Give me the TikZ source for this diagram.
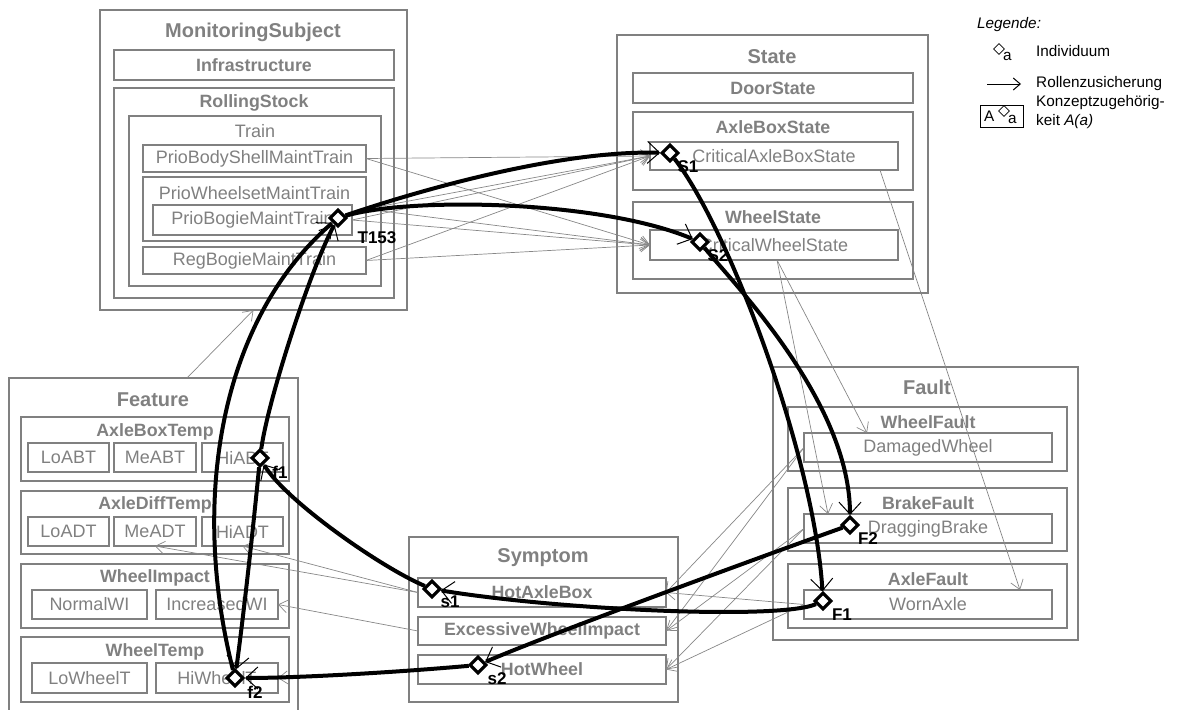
\documentclass[tikz,border=0pt]{standalone}
\usepackage{fontspec}
\setmainfont{Liberation Sans}
\usetikzlibrary{arrows.meta,shapes.geometric}
\definecolor{gr}{RGB}{128,128,128}
\definecolor{ln}{RGB}{135,135,135}
\pgfdeclarelayer{back}
\pgfdeclarelayer{mid}
\pgfsetlayers{back,mid,main}
\tikzset{
 gbox/.style={draw=gr, line width=2pt, inner sep=0pt, outer sep=0pt, rectangle, text=gr},
 ttl/.style={text=gr, font=\fontsize{20}{22}\selectfont\bfseries, inner sep=0pt},
 sttl/.style={text=gr, font=\fontsize{17.8}{20}\selectfont\bfseries, inner sep=0pt},
 nrm/.style={font=\fontsize{18}{20}\selectfont},
 bld/.style={font=\fontsize{17.8}{20}\selectfont\bfseries},
 rel/.style={draw=ln, line width=0.7pt, -{Straight Barb[length=9pt,width=13pt,line width=0.7pt]}},
 role/.style={draw=black, line width=4pt, -{Straight Barb[length=12pt,width=22pt,line width=1pt]}},
 ind/.style={draw=black, fill=white, line width=3.2pt, diamond, minimum width=17pt, minimum height=17pt, inner sep=0pt},
 lbl/.style={font=\fontsize{17}{18}\selectfont\bfseries, inner sep=0pt},
 leg/.style={font=\fontsize{15.3}{17}\selectfont, inner sep=0pt, anchor=west},
}
\newcommand{\bx}[6]{\node[gbox,#6,minimum width={#4-#2},minimum height={#5-#3}] (#1) at ({(#2+#4)/2},{(#3+#5)/2}) {};}
\newcommand{\tbx}[7]{\node[gbox,#6,minimum width={#4-#2},minimum height={#5-#3}] (#1) at ({(#2+#4)/2},{(#3+#5)/2}) {#7};}
\begin{document}
\begin{tikzpicture}[x=1pt,y=-1pt]
\useasboundingbox (0,0) rectangle (1179,710);
\begin{pgfonlayer}{back}
% MonitoringSubject
\bx{ms}{100}{10}{407}{310}{}
\node[ttl] (tms) at (253,32) {MonitoringSubject};
\tbx{inf}{114}{50}{394}{80}{bld}{Infrastructure}
\bx{rs}{114}{88}{394}{298}{}
\node[sttl] (trs) at (254,103) {RollingStock};
\bx{tr}{129}{116}{381}{286}{}
\node[nrm,text=gr,inner sep=0pt] (ttr) at (255,131) {Train};
\tbx{pbs}{143}{145}{366}{172}{nrm}{PrioBodyShellMaintTrain}
\bx{pws}{143}{177}{366}{241}{}
\node[nrm,text=gr,inner sep=0pt] (tpws) at (254.5,193) {PrioWheelsetMaintTrain};
\tbx{pbog}{153}{205}{352}{235}{nrm}{PrioBogieMaintTrain}
\tbx{rbog}{143}{247}{366}{274}{nrm}{RegBogieMaintTrain}
% State
\bx{st}{617}{35}{928}{293}{}
\node[ttl] (tst) at (772,57) {State};
\tbx{door}{633}{73}{913}{103}{bld}{DoorState}
\bx{abs}{633}{112}{913}{190}{}
\node[sttl] (tabs) at (773,127) {AxleBoxState};
\tbx{cabs}{650}{142}{898}{170}{nrm}{CriticalAxleBoxState}
\bx{wst}{633}{202}{913}{279}{}
\node[sttl] (twst) at (773,217) {WheelState};
\tbx{cws}{650}{230}{898}{260}{nrm}{CriticalWheelState}
% Feature
\bx{feat}{9}{378}{298}{714}{}
\node[ttl] (tfeat) at (153,400) {Feature};
\bx{abt}{21}{417}{289}{481}{}
\node[sttl] (tabt) at (155,432) {AxleBoxTemp};
\tbx{loabt}{28}{443}{109}{472}{nrm}{LoABT}
\tbx{meabt}{114}{443}{196}{472}{nrm}{MeABT}
\tbx{hiabt}{202}{443}{283}{472}{nrm}{HiABT}
\bx{adt}{21}{491}{289}{554}{}
\node[sttl] (tadt) at (155,505) {AxleDiffTemp};
\tbx{loadt}{28}{517}{109}{546}{nrm}{LoADT}
\tbx{meadt}{114}{517}{196}{546}{nrm}{MeADT}
\tbx{hiadt}{202}{517}{283}{546}{nrm}{HiADT}
\bx{wi}{21}{564}{289}{628}{}
\node[sttl] (twi) at (155,578) {WheelImpact};
\tbx{nwi}{32}{590}{147}{619}{nrm}{NormalWI}
\tbx{iwi}{156}{590}{278}{619}{nrm}{IncreasedWI}
\bx{wt}{21}{637}{289}{702}{}
\node[sttl] (twt) at (155,652) {WheelTemp};
\tbx{lwt}{32}{663}{147}{693}{nrm}{LoWheelT}
\tbx{hwt}{156}{663}{278}{693}{nrm}{HiWheelT}
% Symptom
\bx{sym}{409}{537}{678}{702}{}
\node[ttl] (tsym) at (543,558) {Symptom};
\tbx{hab}{418}{578}{666}{607}{bld}{HotAxleBox}
\tbx{ewi}{418}{617}{666}{645}{bld}{ExcessiveWheelImpact}
\tbx{hw}{418}{655}{666}{684}{bld}{HotWheel}
% Fault
\bx{flt}{773}{367}{1078}{640}{}
\node[ttl] (tflt) at (927,387) {Fault};
\bx{wf}{788}{407}{1067}{471}{}
\node[sttl] (twf) at (928,422) {WheelFault};
\tbx{dw}{804}{433}{1052}{462}{nrm}{DamagedWheel}
\bx{bf}{788}{488}{1067}{551}{}
\node[sttl] (tbf) at (928,503) {BrakeFault};
\tbx{db}{804}{514}{1052}{543}{nrm}{DraggingBrake}
\bx{af}{788}{564}{1067}{628}{}
\node[sttl] (taf) at (928,579) {AxleFault};
\tbx{wa}{804}{590}{1052}{619}{nrm}{WornAxle}
% gray relations
\draw[rel] (pbs.east) -- (cabs.west);
\draw[rel] (pbs.east) -- (cws.west);
\draw[rel] (pws.east) -- (cabs.west);
\draw[rel] (pws.east) -- (cws.west);
\draw[rel] (pbog.east) -- (cabs.west);
\draw[rel] (pbog.east) -- (cws.west);
\draw[rel] (rbog.east) -- (cabs.west);
\draw[rel] (rbog.east) -- (cws.west);
\coordinate (fm) at (187,378);
\draw[rel] (fm) -- (ms.south);
\coordinate (ca) at (880,170);
\coordinate (waN) at (1020,590);
\draw[rel] (ca) -- (waN);
\coordinate (cw) at (777,260);
\coordinate (dwN) at (867,433);
\coordinate (dbN) at (828,514);
\draw[rel] (cw) -- (dwN);
\draw[rel] (cw) -- (dbN);
\draw[rel] (dw.west) -- (hab.east);
\draw[rel] (dw.west) -- (ewi.east);
\draw[rel] (db.west) -- (ewi.east);
\draw[rel] (db.west) -- (hw.east);
\draw[rel] (wa.west) -- (hab.east);
\draw[rel] (wa.west) -- (hw.east);
\draw[rel] (hab.west) -- (meadt.south);
\draw[rel] (hab.west) -- (hiadt.south);
\draw[rel] (ewi.west) -- (iwi.east);
\draw[rel] (hw.west) -- (hwt.east);
\end{pgfonlayer}
% individuals
\node[ind] (T153) at (338,218) {};
\node[ind] (S1) at (670,153) {};
\node[ind] (S2) at (700,242) {};
\node[ind] (F2) at (850,525) {};
\node[ind] (F1) at (823,601) {};
\node[ind] (s1) at (432,589) {};
\node[ind] (s2) at (478,665) {};
\node[ind] (f1) at (260,458) {};
\node[ind] (f2) at (235,678) {};
\node[lbl] (lT) at (377,238) {T153};
\node[lbl] (lS1) at (688,167) {S1};
\node[lbl] (lS2) at (718,256) {S2};
\node[lbl] (lF1) at (842,615) {F1};
\node[lbl] (lF2) at (868,539) {F2};
\node[lbl] (ls1) at (450,602) {s1};
\node[lbl] (ls2) at (497,679) {s2};
\node[lbl] (lf1) at (280,472) {f1};
\node[lbl] (lf2) at (255,692) {f2};
\begin{pgfonlayer}{mid}
\draw[role] (T153) .. controls (420,190) and (560,150) .. (S1);
\draw[role] (T153) .. controls (410,197) and (600,200) .. (S2);
\draw[role] (S1) .. controls (730,230) and (815,460) .. (F1);
\draw[role] (S2) .. controls (730,280) and (850,400) .. (F2);
\draw[role] (F1) .. controls (780,620) and (560,610) .. (s1);
\draw[role] (F2) .. controls (780,550) and (560,630) .. (s2);
\draw[role] (s1) .. controls (380,567) and (285,500) .. (f1);
\draw[role] (s2) .. controls (400,672) and (300,678) .. (f2);
\draw[role] (f1) .. controls (268,400) and (310,270) .. (T153);
\draw[role] (f2) .. controls (190,500) and (220,320) .. (T153);
\draw[role] (f1) .. controls (253,530) and (243,620) .. (f2);
\end{pgfonlayer}
% legend
\node[leg,font=\fontsize{15.3}{17}\selectfont\itshape] (lgt) at (977,25) {Legende:};
\node[draw=black,line width=0.8pt,diamond,minimum width=11pt,minimum height=11pt,inner sep=0pt] (ld1) at (999,49) {};
\node[leg] (la1) at (1003,56) {a};
\node[leg] (lt1) at (1036,51) {Individuum};
\coordinate (la) at (987,84);
\coordinate (lb) at (1021,84);
\draw[line width=1pt,-{Straight Barb[length=7pt,width=12pt,line width=1pt]}] (la) -- (lb);
\node[leg] (lt2) at (1036,84) {Rollenzusicherung};
\node[draw=black,line width=0.8pt,minimum width=43pt,minimum height=22pt,inner sep=0pt] (lbox) at (1001.5,116) {};
\node[leg] (lA) at (984,116) {A};
\node[draw=black,line width=0.8pt,diamond,minimum width=11pt,minimum height=11pt,inner sep=0pt] (ld2) at (1004,111) {};
\node[leg] (la2) at (1008,119) {a};
\node[leg] (lt3) at (1036,103) {Konzeptzugehörig-};
\node[leg] (lt4) at (1036,122) {keit \textit{A(a)}};
\end{tikzpicture}
\end{document}
